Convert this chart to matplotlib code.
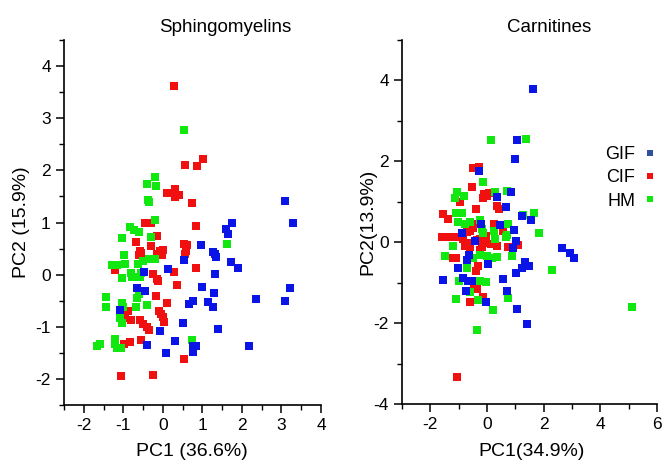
import matplotlib
matplotlib.use("Agg")
import matplotlib.pyplot as plt
from matplotlib.lines import Line2D
from matplotlib.ticker import MultipleLocator

plt.rcParams['font.family'] = ['Liberation Sans', 'DejaVu Sans']
plt.rcParams['axes.unicode_minus'] = False

# ---------------- Sphingomyelins ----------------
sm_gif_x = [3.10, 3.30, 1.76, 1.60, 1.66, 0.96, 1.28, 1.35, 1.31, 0.53, 1.72, 1.90, -0.48, 0.12, 1.33,
            1.00, 3.21, -0.65, -0.44, 1.29, 2.35, 3.09, 0.65, 0.77, 1.15, 1.26, -1.08, 0.50, 1.39, -0.08,
            -0.40, 0.31, 0.77, 0.84, 0.75, 0.09, 2.19]
sm_gif_y = [1.42, 0.99, 0.99, 0.87, 0.78, 0.57, 0.43, 0.33, 0.40, 0.28, 0.24, 0.13, 0.06, 0.10, 0.01,
            -0.23, -0.26, -0.26, -0.31, -0.35, -0.47, -0.51, -0.57, -0.51, -0.52, -0.62, -0.67, -0.92, -1.04, -1.09,
            -1.35, -1.27, -1.37, -1.37, -1.49, -1.51, -1.37]

sm_cif_x = [0.29, 0.55, 0.87, 1.01, 0.11, 0.31, 0.31, 0.41, 0.73, 0.84, -0.46, -0.30, -0.16, -0.67, -0.31,
            0.53, 0.60, 0.58, 0.57, -0.58, -0.54, -0.60, -0.08, 0.01, -0.03, -0.16, -1.20, -0.26, -0.16, -0.11,
            0.29, 0.84, 0.37, -0.17, 0.11, -0.88, -0.95, -0.80, -0.09, -0.05, 0.01, 0.03, -0.59, -0.50, -0.41,
            -0.35, -0.99, -0.84, -0.56, 0.53, -1.07, -0.26]
sm_cif_y = [3.62, 2.11, 2.09, 2.22, 1.56, 1.65, 1.49, 1.53, 1.38, 0.94, 0.99, 0.99, 0.75, 0.63, 0.54,
            0.59, 0.56, 0.46, 0.40, 0.46, 0.42, 0.37, 0.46, 0.47, 0.38, 0.40, 0.09, 0.01, -0.08, -0.12,
            0.06, 0.13, -0.19, -0.41, -0.54, -0.69, -0.84, -0.87, -0.69, -0.76, -0.81, -0.90, -0.87, -0.95, -1.01,
            -1.06, -1.33, -1.30, -1.26, -1.61, -1.94, -1.92]

sm_hm_x = [0.53, -0.19, -0.40, -0.17, -0.38, -0.35, -0.20, -0.82, -0.74, -0.61, -1.04, -0.29, 1.62, -0.98,
           -1.29, -1.16, -0.95, -0.64, -0.50, -0.35, -0.20, -0.81, -0.77, -1.03, -0.59, -0.54, -1.43, -1.43,
           -0.65, -0.69, -0.40, -1.04, -1.01, -1.09, -1.04, -1.67, -1.60, -1.20, -1.20, -1.16, -1.05, 0.73,
           -0.61]
sm_hm_y = [2.77, 1.87, 1.74, 1.70, 1.44, 1.40, 1.05, 0.91, 0.85, 0.81, 0.71, 0.72, 0.59, 0.38,
           0.18, 0.19, 0.21, 0.21, 0.27, 0.30, 0.30, 0.04, -0.04, -0.06, -0.05, 0.04, -0.42, -0.63,
           -0.44, -0.63, -0.58, -0.55, -0.62, -0.83, -0.92, -1.37, -1.33, -1.24, -1.33, -1.40, -1.41, -1.26,
           -0.38]

# ---------------- Carnitines ----------------
ca_gif_x = [1.63, 1.07, 0.99, -0.28, 0.34, 0.85, 0.66, -0.21, 0.46, 1.22, 1.55, 0.95, -0.89, -0.42, 1.02,
            0.90, -0.62, -0.69, 0.02, 1.34, 1.22, 1.48, 1.02, -1.04, -1.54, -0.83, -0.66, -0.52, 0.55, -0.75,
            0.69, -0.04, 1.05, 1.40, 2.63, 2.92, 3.08]
ca_gif_y = [3.79, 2.53, 2.05, 1.76, 1.12, 1.24, 0.86, 0.44, 0.42, 0.65, 0.54, 0.31, 0.22, 0.02, 0.02,
            -0.15, -0.31, -0.44, -0.53, -0.50, -0.63, -0.58, -0.77, -0.64, -0.94, -0.89, -0.95, -0.97, -0.90, -1.20,
            -1.20, -1.49, -1.65, -2.01, -0.15, -0.26, -0.38]

ca_cif_x = [-0.48, -0.28, -0.52, -0.10, 0.07, -0.15, -0.01, -0.95, 0.36, 0.42, -0.39, -1.56, -1.36, -0.36,
            0.25, -0.48, -0.60, -0.71, 0.55, -1.60, -1.36, -1.19, -1.01, -0.83, -0.77, -0.60, -0.71, -0.25,
            -0.07, -0.19, -0.25, 0.28, 0.34, 0.75, 1.08, -1.19, -1.09, -0.31, -0.39, -0.46, -0.34, -0.13,
            -0.60, -1.07, -0.05, 0.15, -0.35]
ca_cif_y = [1.84, 1.87, 1.37, 1.20, 1.21, 1.10, 1.14, 1.00, 0.90, 0.81, 0.83, 0.69, 0.58, 0.44,
            0.46, 0.36, 0.28, 0.25, 0.28, 0.14, 0.12, 0.12, 0.14, 0.07, -0.09, -0.13, -0.01, 0.07,
            -0.01, -0.13, -0.20, 0.05, -0.09, -0.13, -0.07, -0.38, -0.40, -0.58, -0.71, -1.08, -1.16, -1.35,
            -1.49, -3.33, 0.15, -0.05, 0.05]

ca_hm_x = [0.13, 1.37, -0.15, -1.07, -1.13, -0.81, 0.28, 0.69, -1.09, -0.89, -1.01, -0.77, -0.60, -0.25,
           0.73, 1.26, 1.65, 1.82, -0.19, 0.69, -0.15, 0.25, 0.28, 0.67, -1.19, -1.48, -0.48, -0.25, -0.01,
           0.17, 0.36, 0.87, -0.71, -0.98, -0.25, -0.04, -0.60, 0.75, -1.09, -0.31, 0.20, -0.34, 2.28, 5.13]
ca_hm_y = [2.53, 2.54, 1.49, 1.24, 1.10, 1.14, 1.24, 1.27, 0.72, 0.73, 0.50, 0.44, 0.49, 0.54,
           0.44, 0.67, 0.72, 0.24, 0.32, 0.17, 0.24, 0.28, 0.09, 0.12, -0.09, -0.35, -0.38, -0.31, -0.34,
           -0.38, -0.36, -0.35, -0.63, -0.95, -0.97, -0.98, -1.24, -1.38, -1.41, -1.43, -1.67, -2.17, -0.69, -1.60]

group_labels = ['GIF', 'CIF', 'HM']
colors = {'GIF': '#0a14e6', 'CIF': '#f01010', 'HM': '#10e810'}
legend_colors = {'GIF': '#2f4f9f', 'CIF': '#f01010', 'HM': '#10e810'}

titles = ['Sphingomyelins', 'Carnitines']
xlabels = ['PC1 (36.6%)', 'PC1(34.9%)']
ylabels = ['PC2 (15.9%)', 'PC2(13.9%)']

W, H = 664, 466
fig = plt.figure(figsize=(W / 100, H / 100), dpi=100)

def px_axes(x0, y0, x1, y1):
    return fig.add_axes([x0 / W, 1 - y1 / H, (x1 - x0) / W, (y1 - y0) / H])

ax1 = px_axes(64, 40, 321, 405)
ax2 = px_axes(402, 40, 657, 404)

data = [
    {'GIF': (sm_gif_x, sm_gif_y), 'CIF': (sm_cif_x, sm_cif_y), 'HM': (sm_hm_x, sm_hm_y)},
    {'GIF': (ca_gif_x, ca_gif_y), 'CIF': (ca_cif_x, ca_cif_y), 'HM': (ca_hm_x, ca_hm_y)},
]

for ax, d in zip([ax1, ax2], data):
    for g in ['CIF', 'HM', 'GIF']:
        x, y = d[g]
        ax.scatter(x, y, s=30, marker='s', color=colors[g], linewidths=0, zorder=3)
    for s in ['top', 'right']:
        ax.spines[s].set_visible(False)
    for s in ['left', 'bottom']:
        ax.spines[s].set_linewidth(1.2)
    ax.tick_params(which='major', direction='out', length=6, width=1.1, labelsize=12.5)
    ax.tick_params(which='minor', direction='out', length=3.5, width=1.0)

ax1.set_xlim(-2.5, 4)
ax1.set_ylim(-2.5, 4.5)
ax1.set_xticks([-2, -1, 0, 1, 2, 3, 4])
ax1.set_yticks([-2, -1, 0, 1, 2, 3, 4])
ax1.xaxis.set_minor_locator(MultipleLocator(0.5))
ax1.yaxis.set_minor_locator(MultipleLocator(0.5))

ax2.set_xlim(-3, 6)
ax2.set_ylim(-4, 5)
ax2.set_xticks([-2, 0, 2, 4, 6])
ax2.set_yticks([-4, -2, 0, 2, 4])
ax2.xaxis.set_minor_locator(MultipleLocator(1))
ax2.yaxis.set_minor_locator(MultipleLocator(1))

# titles and axis labels in figure pixel coordinates
fig.text(225 / W, 1 - 27 / H, titles[0], ha='center', va='center', fontsize=13.5)
fig.text(549 / W, 1 - 27 / H, titles[1], ha='center', va='center', fontsize=13.5)
fig.text(192 / W, 1 - 451 / H, xlabels[0], ha='center', va='center', fontsize=14)
fig.text(532 / W, 1 - 451 / H, xlabels[1], ha='center', va='center', fontsize=14)
fig.text(22 / W, 1 - 222 / H, ylabels[0], ha='center', va='center', fontsize=14, rotation=90)
fig.text(368 / W, 1 - 222 / H, ylabels[1], ha='center', va='center', fontsize=14, rotation=90)

handles = [Line2D([], [], marker='s', linestyle='none', markersize=5,
                  markerfacecolor=legend_colors[g], markeredgewidth=0) for g in group_labels]
fig.legend(handles, group_labels, loc='upper right', bbox_to_anchor=(655 / W, 1 - 146 / H),
           frameon=False, markerfirst=False, fontsize=13, handlelength=0.6, handletextpad=0.5,
           labelspacing=0.35, borderpad=0, borderaxespad=0)

fig.savefig('out.png', dpi=100)
